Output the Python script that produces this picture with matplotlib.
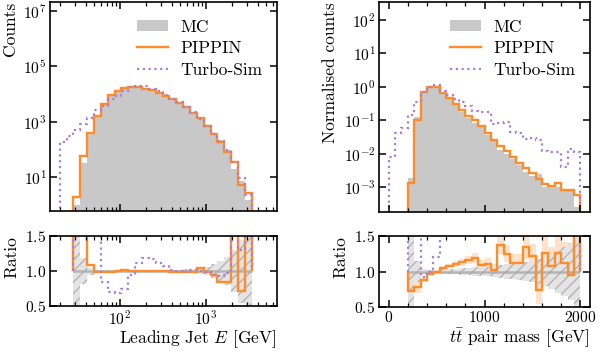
import numpy as np
import matplotlib
matplotlib.use("Agg")
import matplotlib.pyplot as plt
from matplotlib.patches import Patch
from matplotlib.lines import Line2D
from matplotlib.ticker import LogLocator, NullLocator, FixedLocator, MultipleLocator, NullFormatter

plt.rcParams['font.family'] = 'serif'
plt.rcParams['font.serif'] = ['cmr10']
plt.rcParams['mathtext.fontset'] = 'cm'
plt.rcParams['axes.formatter.use_mathtext'] = True
plt.rcParams['axes.unicode_minus'] = False

# ------------------ datos ------------------
# panel izquierdo: energia del jet principal (28 bins log)
e_edges = np.geomspace(20, 3400, 29)
e_mc = [0, 0, 1.0, 32, 367, 1650, 4390, 9190, 12900, 16700, 18200, 18000, 15800,
        13500, 11200, 8500, 6560, 5000, 3540, 2180, 1300, 727, 386, 214, 95, 20, 7.3, 1.5]
e_pippin = [0, 0, 2.0, 56, 400, 1630, 4300, 9100, 12900, 16900, 18200, 18000, 15800,
            13500, 11200, 8500, 6500, 4900, 3470, 2140, 1350, 720, 363, 182, 80, 35, 5.2, 2.6]
e_turbo = [180, 316, 500, 830, 1400, 2600, 3730, 6430, 8770, 12500, 17300, 20200, 18800,
           15800, 12500, 9100, 6690, 5000, 3500, 2200, 1300, 713, 367, 199, 92, 35, 9, 2.3]
# cocientes (bins 2..27)
e_first = 2
e_ratio_pippin = [2.0, 1.75, 1.09, 0.99, 0.98, 0.99, 1.0, 1.01, 1.0, 1.0, 1.0, 1.0, 1.0,
                  1.0, 0.99, 0.98, 0.98, 0.98, 1.04, 0.99, 0.94, 0.85, 0.84, 1.75, 0.71, 1.7]
e_ratio_turbo = [2.0, 2.0, 2.0, 1.6, 0.85, 0.70, 0.68, 0.75, 0.95, 1.12, 1.19, 1.17, 1.12,
                 1.07, 1.02, 1.0, 0.99, 1.01, 1.0, 0.98, 0.95, 0.93, 0.97, 1.75, 1.3, 1.6]
e_mc_err = [1.0, 0.18, 0.05, 0.015, 0.01, 0.01, 0.01, 0.01, 0.01, 0.01, 0.01, 0.01, 0.01,
            0.012, 0.015, 0.02, 0.025, 0.03, 0.04, 0.06, 0.1, 0.15, 0.2, 0.3, 0.45, 0.6]

# panel derecho: masa del par ttbar (30 bins de 0 a 2000 GeV)
m_edges = np.linspace(0, 2000, 31)
m_mc = [0, 0, 0, 0.0019, 0.128, 0.76, 1.0, 0.95, 0.63, 0.42, 0.28, 0.177, 0.116, 0.084,
        0.061, 0.036, 0.0245, 0.0124, 0.0096, 0.0071, 0.0047, 0.0028, 0.0021, 0.0024,
        0.001, 0.001, 0.00103, 0.00074, 0.00087, 0.00026]
m_pippin = [0, 0, 0, 0.00135, 0.1, 0.69, 1.0, 0.97, 0.66, 0.45, 0.31, 0.2, 0.135, 0.1,
            0.066, 0.04, 0.025, 0.017, 0.012, 0.008, 0.0053, 0.0037, 0.0026, 0.0018,
            0.00125, 0.0011, 0.0013, 0.00083, 0.00083, 0.0006]
m_turbo = [0.008, 0.04, 0.06, 0.14, 0.35, 0.7, 0.97, 1.1, 0.77, 0.58, 0.44, 0.35, 0.26,
           0.19, 0.18, 0.17, 0.075, 0.085, 0.09, 0.045, 0.042, 0.028, 0.03, 0.026,
           0.012, 0.011, 0.011, 0.004, 0.014, 0.011]
m_first = 3
m_ratio_pippin = [0.72, 0.78, 0.88, 0.97, 1.0, 1.05, 1.08, 1.11, 1.13, 1.16, 1.19, 1.09,
                  1.11, 1.02, 1.37, 1.25, 1.12, 1.12, 1.34, 1.22, 0.74, 1.26, 1.08, 1.26,
                  1.12, 0.95, 1.6]
m_ratio_turbo = [2.0, 2.0, 0.92, 1.0, 1.2, 2.0, 2.0, 2.0, 2.0, 2.0, 2.0, 2.0, 2.0, 2.0,
                 2.0, 2.0, 2.0, 2.0, 2.0, 2.0, 2.0, 2.0, 2.0, 2.0, 2.0, 2.0, 2.0]
m_mc_err = [0.6, 0.15, 0.03, 0.02, 0.02, 0.03, 0.03, 0.04, 0.05, 0.05, 0.06, 0.06, 0.07,
            0.08, 0.09, 0.1, 0.11, 0.12, 0.14, 0.15, 0.17, 0.2, 0.25, 0.3, 0.35, 0.4, 0.5]
m_pippin_err = [0.2, 0.08, 0.03, 0.02, 0.02, 0.03, 0.03, 0.04, 0.05, 0.06, 0.07, 0.07, 0.08,
                0.09, 0.12, 0.12, 0.12, 0.13, 0.17, 0.17, 0.2, 0.25, 0.27, 0.3, 0.3, 0.35, 0.6]

C_MC = '#c8c8c8'
C_PIP = '#ff8c2a'
C_TUR = '#a680d8'
FS_LAB = 12.5
FS_TICK = 11.2


def style_axes(ax):
    ax.tick_params(which='both', direction='in', top=True, right=True,
                   labelsize=FS_TICK, pad=2.5)
    ax.tick_params(which='major', length=5, width=1.1)
    ax.tick_params(which='minor', length=3, width=0.9)
    for s in ax.spines.values():
        s.set_linewidth(1.2)


def draw_top(ax, edges, mc, pip, tur, leg_x):
    base = 1e-9
    ax.stairs(mc, edges, baseline=base, fill=True, color=C_MC, lw=0)
    ax.stairs(pip, edges, baseline=base, color=C_PIP, lw=1.7)
    ax.stairs(tur, edges, baseline=base, color=C_TUR, lw=1.6, ls=(0, (1, 1.6)))
    ax.set_yscale('log')
    handles = [Patch(facecolor=C_MC, edgecolor='none'),
               Line2D([], [], color=C_PIP, lw=1.7),
               Line2D([], [], color=C_TUR, lw=1.6, ls=(0, (1, 1.6)))]
    ax.legend(handles, ['MC', 'PIPPIN', 'Turbo-Sim'], loc='upper left',
              bbox_to_anchor=(leg_x, 0.95), frameon=False, fontsize=FS_LAB,
              borderaxespad=0, borderpad=0.4, labelspacing=0.35,
              handlelength=1.8, handleheight=0.6, handletextpad=0.7)


def draw_ratio(ax, edges, first, r_pip, r_tur, mc_err, pip_err=None):
    e = edges[first:first + len(r_pip) + 1]
    err = np.array(mc_err)
    if pip_err is not None:
        rp = np.array(r_pip)
        pe = np.array(pip_err)
        ax.stairs(rp + pe, e, baseline=rp - pe, fill=True, color=C_PIP, alpha=0.25, lw=0)
    ax.stairs(1 + err, e, baseline=1 - err, fill=True, facecolor='#e4e4e4',
              edgecolor='#b4b4b4', hatch='///', lw=0)
    ax.stairs(np.ones(len(err)), e, baseline=None, color='#a8a8a8', lw=1.8, alpha=0.8)
    ax.stairs(r_pip, e, baseline=1.0, color=C_PIP, lw=1.7)
    ax.stairs(r_tur, e, baseline=1.0, color=C_TUR, lw=1.6, ls=(0, (1, 1.6)))
    ax.set_ylim(0.5, 1.5)
    ax.yaxis.set_major_locator(FixedLocator([0.5, 1.0, 1.5]))
    ax.yaxis.set_minor_locator(NullLocator())
    ax.set_ylabel('Ratio', fontsize=FS_LAB, loc='top')


fig = plt.figure(figsize=(5.98, 3.52), dpi=100)

# ------------------ izquierda ------------------
ax1 = fig.add_axes([50 / 598, 1 - 211 / 352, 227 / 598, 209 / 352])
ax2 = fig.add_axes([50 / 598, 1 - 306 / 352, 227 / 598, 70 / 352])
draw_top(ax1, e_edges, e_mc, e_pippin, e_turbo, 0.352)
ax1.set_ylim(0.6, 2.1e7)
ax1.set_xscale('log')
ax1.yaxis.set_major_locator(FixedLocator([1e1, 1e3, 1e5, 1e7]))
ax1.yaxis.set_minor_locator(NullLocator())
ax1.set_ylabel('Counts', fontsize=FS_LAB, loc='top')
draw_ratio(ax2, e_edges, e_first, e_ratio_pippin, e_ratio_turbo, e_mc_err)
ax2.set_xscale('log')
for ax in (ax1, ax2):
    ax.set_xlim(15.4, 6700)
    ax.xaxis.set_major_locator(LogLocator(base=10, numticks=10))
    ax.xaxis.set_minor_locator(LogLocator(base=10, subs=np.arange(2, 10), numticks=20))
    ax.xaxis.set_minor_formatter(NullFormatter())
    style_axes(ax)
ax1.tick_params(labelbottom=False)
ax2.set_xlabel('Leading Jet $E$ [GeV]', fontsize=FS_LAB, loc='right', labelpad=0.5)

# ------------------ derecha ------------------
ax3 = fig.add_axes([379 / 598, 1 - 212 / 352, 211 / 598, 210 / 352])
ax4 = fig.add_axes([379 / 598, 1 - 307 / 352, 211 / 598, 71 / 352])
draw_top(ax3, m_edges, m_mc, m_pippin, m_turbo, 0.303)
ax3.set_ylim(1.8e-4, 340)
ax3.yaxis.set_major_locator(FixedLocator([1e-3, 1e-2, 1e-1, 1e0, 1e1, 1e2]))
ax3.yaxis.set_minor_locator(NullLocator())
ax3.set_ylabel('Normalised counts', fontsize=FS_LAB, loc='top')
draw_ratio(ax4, m_edges, m_first, m_ratio_pippin, m_ratio_turbo, m_mc_err, m_pippin_err)
for ax in (ax3, ax4):
    ax.set_xlim(-100, 2100)
    ax.xaxis.set_major_locator(MultipleLocator(1000))
    ax.xaxis.set_minor_locator(MultipleLocator(200))
    style_axes(ax)
ax3.tick_params(labelbottom=False)
ax4.set_xlabel(r'$t\bar{t}$ pair mass [GeV]', fontsize=FS_LAB, loc='right', labelpad=0.5)

fig.align_ylabels([ax1, ax2])
fig.align_ylabels([ax3, ax4])

fig.savefig('out.png', dpi=100)
